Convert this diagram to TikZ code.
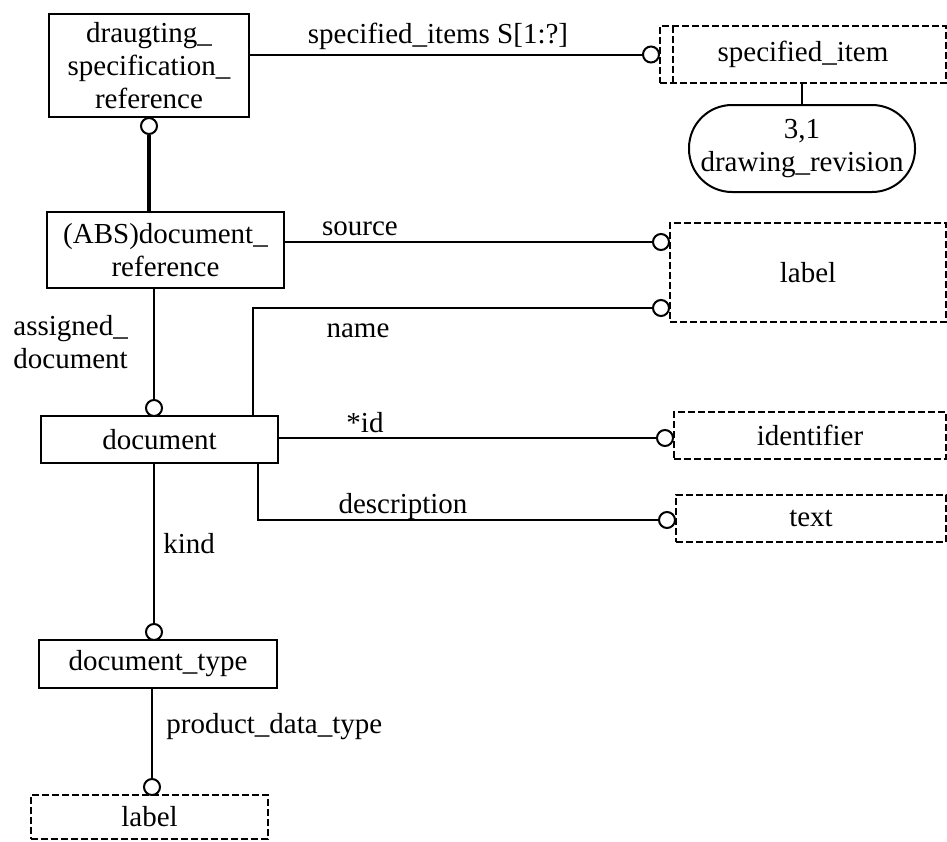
\documentclass[tikz,border=0pt]{standalone}
\usepackage{fontspec}
\setmainfont{Liberation Serif}
\usetikzlibrary{positioning}

\tikzset{
    entity/.style={draw, line width=1pt, rectangle, inner sep=0pt, outer sep=0pt,
        align=center, font=\fontsize{14.5}{16.5}\selectfont},
    defbox/.style={entity, dash pattern=on 3.5pt off 1.5pt},
    ring/.style={draw, line width=1pt, circle, fill=white, minimum size=8pt, inner sep=0pt},
    rel/.style={line width=1pt},
    role/.style={font=\fontsize{14.5}{16.5}\selectfont, inner sep=0pt},
}

\begin{document}
\begin{tikzpicture}[x=0.5pt,y=-0.5pt]

\useasboundingbox (0,0) rectangle (947,841);

% Entity boxes (left column).
\node[entity, minimum width=100pt, minimum height=51.5pt] (dsr) at (149,65.5)
    {draugting\_\\specification\_\\reference};
\node[entity, minimum width=118.5pt, minimum height=38pt] (docref) at (165.5,250)
    {(ABS)document\_\\reference};
\node[entity, minimum width=118.5pt, minimum height=23.5pt] (doc) at (159.5,439.5)
    {document};
\node[entity, minimum width=119pt, minimum height=24pt] (doctype) at (158,664)
    {document\_type};

% Defined types (dashed).
\node[defbox, minimum width=143pt, minimum height=28.5pt] (spec) at (803,54.5)
    {specified\_item};
\node[defbox, minimum width=138pt, minimum height=49.5pt] (lbl) at (808,272.5)
    {label};
\node[defbox, minimum width=136pt, minimum height=23.5pt] (ident) at (810,435.5)
    {identifier};
\node[defbox, minimum width=135pt, minimum height=23.5pt] (txt) at (811,518.5)
    {text};
\node[defbox, minimum width=118.5pt, minimum height=22pt] (lbltwo) at (149.5,817)
    {label};

% extra left edge of specified_item
\draw[dash pattern=on 3.5pt off 1.5pt, line width=1pt]
    ([xshift=6.5pt]spec.north west) coordinate (sa)
    -- ([xshift=6.5pt]spec.south west) coordinate (sb);

% Page reference oval.
\node[entity, rounded corners=21.5pt, minimum width=113pt, minimum height=43.5pt]
    (pref) at (802,148.5) {3,1\\drawing\_revision};
\draw[rel] (pref.north) -- (pref.north |- spec.south);

% Rings at the end of each relation.
\node[ring, below=0pt of dsr] (rdsr) {};
\node[ring, left=0pt of spec] (rspec) {};
\foreach \n/\x/\y in {rsource/661/242, rname/661/308, rassign/154/408,
                      rid/665/438, rdesc/667/520, rkind/154/632, rpdt/152/787} {
    \node[ring] (\n) at (\x,\y) {};
}

% Relations.
\draw[line width=1.6pt] (rdsr) -- (rdsr |- docref.north);
\draw[rel] (dsr.east |- rspec) -- (rspec);
\draw[rel] (docref.east |- rsource) -- (rsource);
\draw[rel] (rname) -| ([xshift=-12.5pt]doc.north east);
\draw[rel] (rassign) -- (rassign |- docref.south);
\draw[rel] (doc.east |- rid) -- (rid);
\draw[rel] (rdesc) -| ([xshift=-10pt]doc.south east);
\draw[rel] (rkind) -- (rkind |- doc.south);
\draw[rel] (rpdt) -- (rpdt |- doctype.south);

% Role names.
\node[role, anchor=base] (tspec) at (438,43) {specified\_items S[1:?]};
\node[role, anchor=base] (tsource) at (360,235) {source};
\node[role, anchor=base] (tname) at (358,337) {name};
\node[role, anchor=base] (tid) at (365,432) {*id};
\node[role, anchor=base] (tdesc) at (403,513) {description};
\node[role, anchor=north west, align=left] (tassign) at (13,315)
    {assigned\_\\document};
\node[role, anchor=base west] (tkind) at (163,553) {kind};
\node[role, anchor=base west] (tpdt) at (166,733) {product\_data\_type};

\end{tikzpicture}
\end{document}
